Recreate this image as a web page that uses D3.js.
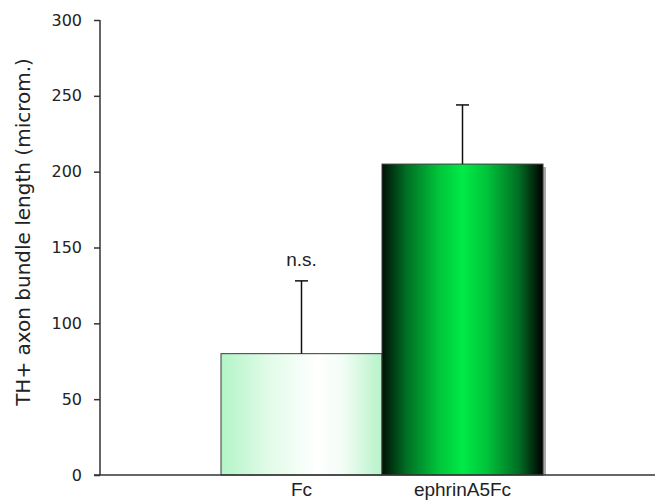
<!DOCTYPE html>
<html>
<head>
<meta charset="utf-8">
<script src="https://cdn.jsdelivr.net/npm/d3@7"></script>
<style>
  body { margin: 0; background: #fff; }
</style>
</head>
<body>
<div id="chart"></div>
<script>
const categories = ["Fc", "ephrinA5Fc"];
const means = [80, 205];
const errors = [48, 39];
const notes = ["n.s.", ""];
const yTicks = [0, 50, 100, 150, 200, 250, 300];

const width = 661;
const height = 502;

const svg = d3.select("#chart")
    .append("svg")
    .attr("width", width)
    .attr("height", height);

const defs = svg.append("defs");

// light bar: pale green edges, white middle
const g1 = defs.append("linearGradient").attr("id", "grad-fc");
[[0, "#b2f5c6"], [0.3, "#e2fbe9"], [0.6, "#ffffff"], [0.75, "#f4fdf6"], [1, "#b6f3c8"]]
    .forEach(([o, c]) => g1.append("stop").attr("offset", o).attr("stop-color", c));

// dark bar: black edges, bright green middle
const g2 = defs.append("linearGradient").attr("id", "grad-eph");
[[0, "#001005"], [0.15, "#006e24"], [0.35, "#00c43a"], [0.5, "#00ea47"], [0.65, "#00c43a"], [0.85, "#006e24"], [1, "#000000"]]
    .forEach(([o, c]) => g2.append("stop").attr("offset", o).attr("stop-color", c));

const fills = ["url(#grad-fc)", "url(#grad-eph)"];

const x = d3.scaleBand()
    .domain(categories)
    .range([221, 543])
    .padding(0);

const y = d3.scaleLinear()
    .domain([0, 300])
    .range([475, 20]);

const axisLeft = 100;
const axisRight = 655;

const data = categories.map((c, i) => ({ cat: c, mean: means[i], err: errors[i], note: notes[i], fill: fills[i] }));

// shadows
svg.append("g")
    .selectAll("rect")
    .data(data)
    .join("rect")
    .attr("x", d => x(d.cat) + 3)
    .attr("y", d => y(d.mean) + 3)
    .attr("width", x.bandwidth())
    .attr("height", d => y(0) - y(d.mean) - 3)
    .attr("fill", "#a8a8a8");

// bars
svg.append("g")
    .selectAll("rect")
    .data(data)
    .join("rect")
    .attr("x", d => x(d.cat))
    .attr("y", d => y(d.mean))
    .attr("width", x.bandwidth())
    .attr("height", d => y(0) - y(d.mean))
    .attr("fill", d => d.fill)
    .attr("stroke", "#3a3a3a")
    .attr("stroke-width", 1);

// error bars (upper only)
const eb = svg.append("g")
    .attr("stroke", "#111")
    .attr("stroke-width", 1.5);

eb.selectAll("line.stem")
    .data(data)
    .join("line")
    .attr("class", "stem")
    .attr("x1", d => x(d.cat) + x.bandwidth() / 2)
    .attr("x2", d => x(d.cat) + x.bandwidth() / 2)
    .attr("y1", d => y(d.mean))
    .attr("y2", d => y(d.mean + d.err));

eb.selectAll("line.cap")
    .data(data)
    .join("line")
    .attr("class", "cap")
    .attr("x1", d => x(d.cat) + x.bandwidth() / 2 - 6.5)
    .attr("x2", d => x(d.cat) + x.bandwidth() / 2 + 6.5)
    .attr("y1", d => y(d.mean + d.err))
    .attr("y2", d => y(d.mean + d.err));

// significance notes
svg.append("g")
    .selectAll("text")
    .data(data.filter(d => d.note))
    .join("text")
    .attr("x", d => x(d.cat) + x.bandwidth() / 2)
    .attr("y", d => y(d.mean + d.err) - 15)
    .attr("text-anchor", "middle")
    .style("font-family", "Liberation Sans, Arial, sans-serif")
    .style("font-size", "19px")
    .style("fill", "#222")
    .text(d => d.note);

// y axis
const yAxis = svg.append("g")
    .attr("transform", `translate(${axisLeft},0)`)
    .call(d3.axisLeft(y).tickValues(yTicks).tickSize(6).tickPadding(12));
yAxis.selectAll("path, line").attr("stroke", "#333").attr("stroke-width", 1.5);
yAxis.select(".domain").attr("d", `M0,${y(300)}V${y(0)}`);
yAxis.selectAll("text")
    .style("font-family", "DejaVu Sans, Verdana, sans-serif")
    .style("font-size", "16px")
    .style("fill", "#222");

// x axis baseline
svg.append("line")
    .attr("x1", axisLeft - 6)
    .attr("x2", axisRight)
    .attr("y1", y(0))
    .attr("y2", y(0))
    .attr("stroke", "#333")
    .attr("stroke-width", 1.5);

// category labels
svg.append("g")
    .selectAll("text")
    .data(data)
    .join("text")
    .attr("x", d => x(d.cat) + x.bandwidth() / 2)
    .attr("y", 496)
    .attr("text-anchor", "middle")
    .style("font-family", "Liberation Sans, Arial, sans-serif")
    .style("font-size", "19px")
    .style("fill", "#222")
    .text(d => d.cat);

// y title
svg.append("text")
    .attr("transform", `translate(30,${232}) rotate(-90)`)
    .attr("text-anchor", "middle")
    .style("font-family", "DejaVu Sans, Verdana, sans-serif")
    .style("font-size", "20px")
    .style("fill", "#222")
    .text("TH+ axon bundle length (microm.)");
</script>
</body>
</html>
